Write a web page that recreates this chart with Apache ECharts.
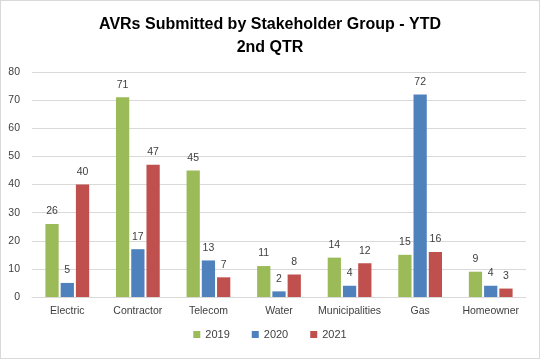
<!DOCTYPE html>
<html><head><meta charset="utf-8">
<script src="https://cdn.jsdelivr.net/npm/echarts@6/dist/echarts.min.js"></script>
<style>html,body{margin:0;padding:0;background:#fff}#c{width:538px;height:357px;border:1px solid #d9d9d9}</style>
</head><body><div id="c"></div>
<script>
var categories = ['Electric','Contractor','Telecom','Water','Municipalities','Gas','Homeowner'];
var s2019 = [26,71,45,11,14,15,9];
var s2020 = [5,17,13,2,4,72,4];
var s2021 = [40,47,7,8,12,16,3];
var yTicks = [0,10,20,30,40,50,60,70,80];
var font = 'Liberation Sans, Arial, sans-serif';
var chart = echarts.init(document.getElementById('c'));
function ser(name, data, color){
  return {name:name,type:'bar',data:data,barGap:'15%',barCategoryGap:'38%',
    itemStyle:{color:color},
    label:{show:true,position:'top',distance:7,color:'#404040',fontSize:10.5,fontFamily:font}};
}
chart.setOption({
  animation:false,
  title:{text:'AVRs Submitted by Stakeholder Group - YTD\n2nd QTR',left:'center',top:7,
    textStyle:{fontSize:16,fontWeight:'bold',fontFamily:font,color:'#000',lineHeight:23}},
  legend:{bottom:13,left:'center',itemWidth:7,itemHeight:7,itemGap:22,icon:'rect',
    textStyle:{fontSize:11,fontFamily:font,color:'#404040'},data:['2019','2020','2021']},
  grid:{left:31,right:13,top:71,bottom:61,containLabel:false},
  xAxis:{type:'category',data:categories,axisTick:{show:false},
    axisLine:{lineStyle:{color:'#d9d9d9'}},
    axisLabel:{color:'#404040',fontSize:10.5,fontFamily:font,margin:9,interval:0}},
  yAxis:{type:'value',min:0,max:80,interval:10,
    axisLabel:{color:'#404040',fontSize:10.5,fontFamily:font,margin:12},
    splitLine:{lineStyle:{color:'#d9d9d9'}},axisLine:{show:false},axisTick:{show:false}},
  series:[ser('2019',s2019,'#9BBB59'),ser('2020',s2020,'#4F81BD'),ser('2021',s2021,'#C0504D')]
});
</script></body></html>
